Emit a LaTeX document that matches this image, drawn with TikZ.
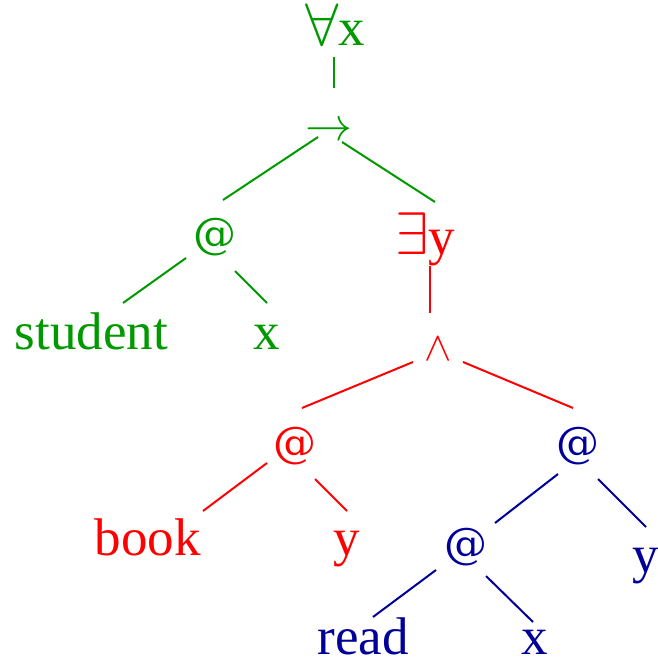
\RequirePackage{fix-cm}
\documentclass[tikz,border=0pt]{standalone}
\usepackage{fontspec}
\setmainfont{Liberation Serif}
\newfontfamily\atfont{DejaVu Serif}
\usetikzlibrary{calc}
\definecolor{Leaf}{HTML}{009900}
\definecolor{Scope}{HTML}{FF0000}
\definecolor{Inner}{HTML}{000099}
\newcommand\apply{{\atfont\fontsize{43}{50}\selectfont\raisebox{4pt}{@}}}
\newcommand\quant[1]{{\fontsize{60}{60}\selectfont$#1$}}
\tikzset{
  term/.style={anchor=base,inner sep=0pt,font=\fontsize{53}{60}\selectfont},
  gterm/.style={term,text=Leaf},
  rterm/.style={term,text=Scope},
  bterm/.style={term,text=Inner},
  gedge/.style={draw=Leaf,line width=2pt},
  redge/.style={draw=Scope,line width=2pt},
  bedge/.style={draw=Inner,line width=2pt}
}
\begin{document}
\begin{tikzpicture}[x=1pt,y=-1pt]
  \useasboundingbox (0,0) rectangle (657,661);
  % quantifier over x
  \node[gterm] (forall) at (335,46) {\quant{\forall}x};
  \node[gterm,font=\fontsize{47}{52}\selectfont] (imp) at (329,140) {$\to$};
  \node[gterm] (atg) at (214.5,252) {\apply};
  \node[gterm] (student) at (91.5,349) {student};
  \node[gterm] (xg) at (267,349) {x};
  % quantifier over y
  \node[rterm] (exy) at (425,254) {\quant{\exists}y};
  \node[rterm,font=\fontsize{41}{48}\selectfont] (and) at (438.5,360) {$\wedge$};
  \node[rterm] (atr) at (295,461) {\apply};
  \node[rterm] (book) at (147.5,555) {book};
  \node[rterm] (yr) at (347,555) {y};
  % read x y
  \node[bterm] (atb) at (578,461) {\apply};
  \node[bterm] (atbb) at (466,562) {\apply};
  \node[bterm] (yb) at (646,572) {y};
  \node[bterm] (read) at (363,654) {read};
  \node[bterm] (xb) at (535,654) {x};

  \draw[gedge] ($(forall.base)+(-1,11)$) -- ($(imp.base)+(5,-52)$);
  \draw[gedge] ($(imp.base)+(-11,-3)$) -- ($(atg.base)+(8.5,-52)$);
  \draw[gedge] ($(imp.base)+(13,2)$) -- ($(exy.base)+(10,-52)$);
  \draw[gedge] ($(atg.base)+(-28.5,6)$) -- ($(student.base)+(31.5,-46)$);
  \draw[gedge] ($(atg.base)+(20.5,19)$) -- ($(xg.base)+(0,-46)$);
  \draw[redge] ($(exy.base)+(5,12)$) -- ($(and.base)+(-8.5,-47)$);
  \draw[redge] ($(and.base)+(-25.5,2)$) -- ($(atr.base)+(7,-53)$);
  \draw[redge] ($(and.base)+(24.5,2)$) -- ($(atb.base)+(-5,-53)$);
  \draw[redge] ($(atr.base)+(-28,2)$) -- ($(book.base)+(55.5,-44)$);
  \draw[redge] ($(atr.base)+(20,18)$) -- ($(yr.base)+(0,-44)$);
  \draw[bedge] ($(atb.base)+(-20,13)$) -- ($(atbb.base)+(29,-39)$);
  \draw[bedge] ($(atb.base)+(20,18)$) -- ($(yb.base)+(0,-45)$);
  \draw[bedge] ($(atbb.base)+(-30,8)$) -- ($(read.base)+(10,-37)$);
  \draw[bedge] ($(atbb.base)+(20,14)$) -- ($(xb.base)+(-2,-32)$);
\end{tikzpicture}
\end{document}
